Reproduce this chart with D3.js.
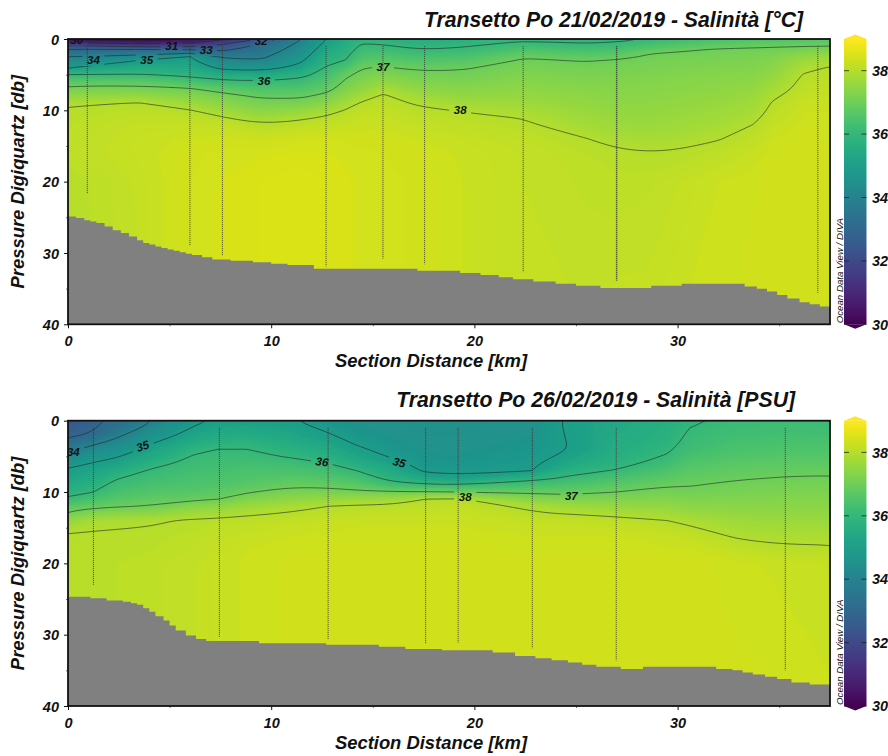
<!DOCTYPE html>
<html>
<head>
<meta charset="utf-8">
<title>Transetto Po</title>
<script src="https://cdn.jsdelivr.net/npm/d3@7"></script>
<style>
  html, body { margin: 0; padding: 0; background: #fff; }
  svg { display: block; }
  text { font-family: "Liberation Sans", Arial, sans-serif; font-weight: bold; font-style: italic; fill: #111; }
</style>
</head>
<body>
<script>
// ---- data ----
const titles = ['Transetto Po 21/02/2019 - Salinità [°C]', 'Transetto Po 26/02/2019 - Salinità [PSU]']
const xLabel = 'Section Distance [km]'
const yLabel = 'Pressure Digiquartz [db]'
const credit = 'Ocean Data View / DIVA'
const barTicks = [30, 32, 34, 36, 38]
const contourLevels = [30, 31, 32, 33, 34, 35, 36, 37, 38]

// first section, 21/02
const km1 = [0, 3.5, 6, 7.6, 9.5, 11.4, 12.7, 13.7, 14.5, 15.5, 17.5, 19.5, 22.4, 25.5, 27, 28.5, 30, 32, 33.7, 34.7, 36.2, 37.5]
const depth1 = [0, 0.5, 1, 1.5, 2, 2.5, 3, 4, 5, 6, 7, 8, 9, 10, 11, 12, 14, 16, 20, 40]
// one row per distance, one value per depth
const sal1 = [
  [29.7, 31, 32.25, 33.1, 33.55, 34, 34.3, 34.95, 36, 36.7, 37.2, 37.55, 37.93, 38.06, 38.08, 38.1, 38.12, 38.14, 38.05, 38.05],
  [29.5, 30.5, 31.7, 33.1, 33.7, 34.3, 35, 35.5, 36.05, 36.75, 37.2, 37.6, 38.02, 38.12, 38.18, 38.22, 38.26, 38.26, 38.22, 38.2],
  [30, 30.85, 31.8, 33, 34, 35.05, 35.15, 35.45, 35.85, 36.4, 37.05, 37.4, 37.7, 38.02, 38.16, 38.22, 38.32, 38.38, 38.4, 38.4],
  [30.8, 31.6, 32.3, 32.85, 33.3, 33.9, 34.2, 34.8, 35.5, 36.15, 36.75, 37.2, 37.45, 37.7, 38.03, 38.2, 38.34, 38.42, 38.46, 38.46],
  [31.95, 33, 33.25, 33.45, 33.65, 33.85, 34.05, 34.7, 35.4, 36.1, 36.5, 36.9, 37.2, 37.45, 37.7, 38.04, 38.32, 38.44, 38.5, 38.5],
  [33.95, 34.1, 34.25, 34.4, 34.55, 34.7, 34.85, 35.2, 35.75, 36.2, 36.5, 36.9, 37.2, 37.55, 37.9, 38.14, 38.38, 38.48, 38.52, 38.52],
  [35, 35.1, 35.25, 35.4, 35.5, 35.65, 35.78, 36.05, 36.3, 36.55, 36.8, 37.15, 37.45, 37.75, 38.06, 38.2, 38.4, 38.46, 38.5, 38.5],
  [35.55, 35.62, 35.7, 35.78, 35.86, 35.94, 36.03, 36.5, 36.9, 37.1, 37.3, 37.55, 37.8, 38.04, 38.16, 38.24, 38.38, 38.44, 38.46, 38.46],
  [35.85, 35.97, 36.1, 36.22, 36.35, 36.5, 36.65, 36.97, 37.15, 37.35, 37.55, 37.8, 38.06, 38.16, 38.24, 38.28, 38.36, 38.42, 38.44, 38.44],
  [35.8, 35.92, 36.05, 36.2, 36.38, 36.55, 36.7, 37.03, 37.3, 37.55, 37.85, 38.06, 38.12, 38.2, 38.24, 38.28, 38.36, 38.4, 38.42, 38.42],
  [35.65, 35.75, 35.87, 36, 36.2, 36.4, 36.55, 36.9, 37.1, 37.3, 37.5, 37.7, 37.93, 38.06, 38.12, 38.2, 38.3, 38.36, 38.38, 38.38],
  [35.75, 35.85, 35.96, 36.12, 36.3, 36.45, 36.6, 36.95, 37.1, 37.25, 37.4, 37.55, 37.75, 37.97, 38.08, 38.14, 38.24, 38.28, 38.3, 38.3],
  [35.9, 36.05, 36.3, 36.5, 36.75, 36.97, 37.05, 37.2, 37.3, 37.4, 37.5, 37.6, 37.7, 37.85, 37.98, 38.06, 38.16, 38.2, 38.2, 38.2],
  [35.85, 35.97, 36.15, 36.35, 36.55, 36.77, 36.97, 37.12, 37.22, 37.32, 37.4, 37.5, 37.55, 37.62, 37.7, 37.78, 38.01, 38.1, 38.14, 38.2],
  [35.88, 36.03, 36.2, 36.42, 36.65, 36.87, 37.03, 37.15, 37.25, 37.32, 37.38, 37.45, 37.5, 37.56, 37.62, 37.68, 37.88, 38.06, 38.12, 38.24],
  [36, 36.2, 36.45, 36.72, 36.97, 37.05, 37.12, 37.2, 37.28, 37.35, 37.4, 37.45, 37.5, 37.55, 37.6, 37.65, 37.82, 38.02, 38.14, 38.24],
  [36.2, 36.4, 36.65, 36.9, 37.05, 37.12, 37.18, 37.25, 37.32, 37.4, 37.45, 37.5, 37.55, 37.6, 37.65, 37.72, 37.87, 38.04, 38.2, 38.3],
  [36.4, 36.6, 36.85, 37.05, 37.12, 37.18, 37.22, 37.3, 37.38, 37.45, 37.5, 37.55, 37.62, 37.68, 37.75, 37.82, 37.98, 38.14, 38.3, 38.34],
  [36.5, 36.7, 36.92, 37.08, 37.15, 37.2, 37.25, 37.32, 37.4, 37.5, 37.58, 37.65, 37.72, 37.8, 37.9, 38, 38.14, 38.26, 38.34, 38.37],
  [36.5, 36.72, 36.95, 37.1, 37.2, 37.28, 37.35, 37.45, 37.55, 37.68, 37.8, 37.93, 38.04, 38.1, 38.16, 38.22, 38.3, 38.34, 38.37, 38.37],
  [36.55, 36.75, 36.98, 37.2, 37.4, 37.55, 37.7, 37.9, 38.02, 38.1, 38.14, 38.22, 38.26, 38.3, 38.3, 38.34, 38.37, 38.37, 38.37, 38.37],
  [36.6, 36.8, 37, 37.25, 37.5, 37.7, 37.82, 38.02, 38.08, 38.14, 38.18, 38.22, 38.26, 38.3, 38.3, 38.34, 38.34, 38.37, 38.37, 38.37]
]
const bathyKm1 = [0, 0.4, 0.8, 1.1, 1.4, 1.8, 2.2, 2.6, 3, 3.4, 3.7, 4, 4.3, 4.6, 4.9, 5.2, 5.5, 5.8, 6.1, 6.6, 7.1, 8, 9.1, 10, 10.8, 12.1, 17.2, 19.3, 20.3, 21.2, 21.9, 22.9, 24, 25, 26.2, 28.7, 30.2, 33.3, 33.9, 34.4, 34.9, 35.4, 36, 36.5, 37, 37.5]
const bathyDepth1 = [24.9, 25.1, 25.4, 25.6, 25.8, 26.3, 26.8, 27.2, 27.7, 28.2, 28.6, 28.8, 29.1, 29.3, 29.5, 29.7, 29.9, 30.1, 30.3, 30.6, 30.9, 31.1, 31.3, 31.5, 31.7, 32.2, 32.5, 32.8, 33.1, 33.4, 33.7, 34, 34.3, 34.6, 34.9, 34.6, 34.3, 34.7, 35, 35.4, 35.9, 36.4, 36.9, 37.2, 37.5, 37.5]
const stationKm1 = [0.95, 6, 7.6, 12.7, 15.5, 17.55, 22.4, 27, 36.9]
const stationEnd1 = [21.7, 28.9, 30.4, 31.9, 30.8, 31.6, 32.7, 33.9, 35.6]
const labelText1 = ['30', '34', '35', '31', '33', '32', '36', '37', '38']
const labelKm1 = [0.43, 1.25, 3.87, 5.1, 6.8, 9.5, 9.64, 15.5, 19.3]
const labelDepth1 = [0.1, 2.95, 2.94, 0.93, 1.55, 0.2, 5.9, 3.9, 9.95]
const labelTilt1 = [0, 0, 0, 0, 0, 0, 0, 0, 0]

// second section, 26/02
const km2 = [0, 1.25, 2.4, 4.2, 6.2, 7.4, 8.8, 10.9, 12.8, 14.2, 16, 17.6, 19.2, 22.85, 23.9, 24.7, 27, 29.5, 30.6, 33, 35.3, 37.5]
const depth2 = [0, 1, 2, 3, 4, 5, 6, 7, 8, 9, 10, 11, 12, 14, 16, 18, 20, 40]
const sal2 = [
  [32.4, 32.6, 32.85, 33.25, 33.75, 34.2, 34.75, 35.1, 35.3, 35.55, 35.8, 36.1, 36.7, 37.55, 38.03, 38.05, 38.06, 38.06],
  [32.8, 32.95, 33.1, 33.8, 34.3, 34.65, 35.05, 35.3, 35.5, 35.75, 36, 36.4, 36.85, 37.85, 38.05, 38.06, 38.08, 38.08],
  [33.2, 33.45, 33.85, 34.2, 34.55, 34.95, 35.25, 35.6, 35.95, 36.2, 36.4, 36.6, 36.95, 37.9, 38.06, 38.08, 38.1, 38.1],
  [34, 34.3, 34.6, 34.95, 35.25, 35.5, 35.8, 36.1, 36.25, 36.4, 36.6, 36.8, 37.05, 37.95, 38.08, 38.1, 38.14, 38.14],
  [34.85, 35.05, 35.3, 35.55, 35.85, 36.05, 36.2, 36.3, 36.4, 36.5, 36.65, 36.9, 37.4, 38.06, 38.12, 38.16, 38.2, 38.2],
  [35.1, 35.3, 35.5, 35.75, 36, 36.15, 36.25, 36.35, 36.45, 36.55, 36.75, 37, 37.5, 38.1, 38.18, 38.22, 38.26, 38.26],
  [35.15, 35.35, 35.55, 35.8, 36, 36.15, 36.3, 36.45, 36.55, 36.7, 36.95, 37.3, 37.7, 38.14, 38.24, 38.3, 38.32, 38.32],
  [35.05, 35.2, 35.35, 35.55, 35.75, 35.95, 36.25, 36.45, 36.65, 36.9, 37.2, 37.5, 37.85, 38.2, 38.3, 38.34, 38.36, 38.36],
  [34.75, 34.9, 35.05, 35.25, 35.5, 35.75, 36, 36.3, 36.55, 36.85, 37.2, 37.6, 38, 38.24, 38.32, 38.36, 38.38, 38.38],
  [34.6, 34.68, 34.78, 34.92, 35.1, 35.3, 35.6, 36, 36.35, 36.7, 37.1, 37.7, 38.06, 38.28, 38.34, 38.36, 38.38, 38.38],
  [34.55, 34.58, 34.62, 34.68, 34.78, 34.93, 35.2, 35.45, 35.75, 36.2, 37.05, 37.7, 38.1, 38.28, 38.34, 38.36, 38.38, 38.38],
  [34.5, 34.52, 34.55, 34.58, 34.62, 34.68, 34.76, 34.9, 35.35, 36.1, 37.05, 38, 38.14, 38.28, 38.34, 38.36, 38.38, 38.38],
  [34.5, 34.52, 34.54, 34.57, 34.6, 34.66, 34.75, 34.88, 35.1, 36, 37, 38.06, 38.2, 38.28, 38.34, 38.36, 38.38, 38.38],
  [34.6, 34.62, 34.65, 34.7, 34.76, 34.84, 34.92, 35, 35.75, 36.35, 36.9, 37.4, 37.9, 38.2, 38.3, 38.34, 38.37, 38.37],
  [34.9, 34.91, 34.92, 34.93, 34.95, 35, 35.15, 35.5, 35.95, 36.4, 36.85, 37.35, 37.8, 38.2, 38.3, 38.34, 38.37, 38.37],
  [35.1, 35.07, 35.04, 35.02, 35.01, 35.2, 35.45, 35.75, 36.1, 36.5, 36.85, 37.3, 37.75, 38.2, 38.3, 38.34, 38.37, 38.37],
  [35.4, 35.45, 35.5, 35.55, 35.6, 35.7, 35.8, 36.05, 36.4, 36.7, 37, 37.3, 37.6, 38.14, 38.3, 38.34, 38.37, 38.37],
  [35.7, 35.72, 35.76, 35.82, 35.92, 36.05, 36.25, 36.5, 36.7, 36.95, 37.15, 37.35, 37.55, 38, 38.24, 38.32, 38.37, 38.37],
  [35.92, 36, 36.08, 36.15, 36.25, 36.4, 36.55, 36.7, 36.82, 36.97, 37.1, 37.3, 37.45, 37.9, 38.18, 38.32, 38.37, 38.37],
  [36.15, 36.2, 36.28, 36.36, 36.45, 36.55, 36.7, 36.82, 36.95, 37.1, 37.2, 37.3, 37.45, 37.7, 37.92, 38.18, 38.32, 38.37],
  [36.2, 36.25, 36.32, 36.4, 36.5, 36.62, 36.75, 36.88, 37.02, 37.15, 37.25, 37.35, 37.45, 37.65, 37.87, 38.06, 38.28, 38.36],
  [36.15, 36.22, 36.3, 36.4, 36.5, 36.62, 36.75, 36.9, 37.05, 37.15, 37.25, 37.35, 37.45, 37.65, 37.87, 38.06, 38.24, 38.32]
]
const bathyKm2 = [0, 1.1, 1.9, 2.7, 3.1, 3.4, 3.7, 4, 4.3, 4.7, 5, 5.3, 5.8, 6.3, 6.8, 9.4, 12.7, 15.3, 16.6, 18.4, 20.9, 22, 23, 23.8, 24.6, 25.3, 26, 27.2, 28.3, 31.9, 32.7, 33.2, 33.7, 34.3, 34.9, 35.6, 36.5, 37.5]
const bathyDepth2 = [24.7, 24.9, 25.2, 25.4, 25.6, 25.8, 26.3, 26.8, 27.4, 28, 28.7, 29.4, 30.1, 30.6, 30.9, 31.2, 31.4, 31.7, 32, 32.2, 32.5, 33, 33.3, 33.6, 33.9, 34.2, 34.5, 34.8, 34.5, 34.8, 35, 35.3, 35.6, 35.9, 36.2, 36.7, 37, 37.4]
const stationKm2 = [1.25, 7.45, 12.8, 17.6, 19.2, 22.85, 26.98, 35.3]
const stationEnd2 = [23, 30.3, 30.6, 31.3, 31.1, 31.9, 33.6, 35]
const labelText2 = ['34', '35', '36', '35', '38', '37']
const labelKm2 = [0.26, 3.67, 12.5, 16.3, 19.55, 24.77]
const labelDepth2 = [4.35, 3.55, 5.75, 5.84, 10.7, 10.5]
const labelTilt2 = [0, -20, 8, 15, 0, 0]

// ---- drawing ----
const W = 888, H = 756
const plotLeft = 68, plotRight = 830
const kmPerAxis = 37.5
const salColor = v => d3.interpolateViridis((v - 30) / 9)

const svg = d3.select('body').append('svg').attr('width', W).attr('height', H)
const defs = svg.append('defs')

// gradient of the colour bar, bottom to top
const grad = defs.append('linearGradient').attr('id', 'barGrad')
  .attr('x1', 0).attr('x2', 0).attr('y1', 1).attr('y2', 0)
d3.range(30, 39.01, 0.25).forEach(v => {
  grad.append('stop').attr('offset', (v - 30) / 9).attr('stop-color', salColor(v))
})

// softens the facets of the filled bands
defs.append('filter').attr('id', 'soft')
  .attr('filterUnits', 'userSpaceOnUse').attr('x', 0).attr('y', 0).attr('width', W).attr('height', H)
  .append('feGaussianBlur').attr('stdDeviation', 2)

function drawPanel(id, top, bottom, titleText, titleRight, titleY, km, depth, sal, bathyKm, bathyDepth, stKm, stEnd, lbText, lbKm, lbDepth, lbTilt) {
  const x = d3.scaleLinear().domain([0, kmPerAxis]).range([plotLeft, plotRight])
  const y = d3.scaleLinear().domain([0, 40]).range([top, bottom])

  const g = svg.append('g')

  defs.append('clipPath').attr('id', 'clip' + id)
    .append('rect').attr('x', plotLeft).attr('y', top).attr('width', plotRight - plotLeft).attr('height', bottom - top)

  const n = km.length, m = depth.length
  const flat = []
  for (let j = 0; j < m; j++) {
    for (let i = 0; i < n; i++) flat.push(sal[i][j])
  }
  const contours = d3.contours().size([n, m])

  // contours work on index space, this brings them back to km and db.
  // points on the grid border go outside the frame, the clip cuts them
  const ix = d3.scaleLinear().domain(km.map((d, i) => i + 0.5)).range(km).clamp(true)
  const iy = d3.scaleLinear().domain(depth.map((d, i) => i + 0.5)).range(depth).clamp(true)
  const toPx = (a, b) => [
    x(ix(a)) + (a <= 0 ? -20 : a >= n ? 20 : 0),
    y(iy(b)) + (b <= 0 ? -20 : b >= m ? 20 : 0)
  ]
  const path = d3.geoPath(d3.geoTransform({
    point: function (a, b) { const p = toPx(a, b); this.stream.point(p[0], p[1]) }
  }))
  const smooth = d3.line().curve(d3.curveBasisClosed)
  const isoPath = d => d.coordinates
    .flatMap(poly => poly.map(ring => smooth(ring.slice(0, -1).map(p => toPx(p[0], p[1])))))
    .join('')

  const field = g.append('g').attr('clip-path', `url(#clip${id})`)
  const bands = field.append('g').attr('filter', 'url(#soft)')
  bands.append('rect')
    .attr('x', plotLeft - 25).attr('y', top - 25).attr('width', plotRight - plotLeft + 50).attr('height', bottom - top + 50)
    .attr('fill', salColor(30))
  bands.selectAll('path.band')
    .data(contours.thresholds(d3.range(30, 39, 0.05))(flat))
    .join('path')
    .attr('class', 'band')
    .attr('d', path)
    .attr('fill', d => salColor(d.value))

  // holes in the isolines under the labels
  const mask = defs.append('mask').attr('id', 'gap' + id).attr('maskUnits', 'userSpaceOnUse')
    .attr('x', 0).attr('y', 0).attr('width', W).attr('height', H)
  mask.append('rect').attr('width', W).attr('height', H).attr('fill', '#fff')
  lbText.forEach((t, i) => {
    mask.append('rect')
      .attr('x', -11).attr('y', -6).attr('width', 22).attr('height', 12).attr('fill', '#000')
      .attr('transform', `translate(${x(lbKm[i])},${y(lbDepth[i])}) rotate(${lbTilt[i]})`)
  })

  field.append('g').attr('mask', `url(#gap${id})`)
    .selectAll('path.iso')
    .data(contours.thresholds(contourLevels)(flat))
    .join('path')
    .attr('class', 'iso')
    .attr('d', isoPath)
    .attr('fill', 'none')
    .attr('stroke', '#1c2a2a')
    .attr('stroke-width', 0.6)

  // sea floor
  const floor = d3.area().curve(d3.curveStepAfter)
    .x((d, i) => x(bathyKm[i]))
    .y0(y(40))
    .y1((d, i) => y(bathyDepth[i]))
  field.append('path').datum(bathyKm).attr('d', floor).attr('fill', '#808080')

  // casts
  field.selectAll('line.cast')
    .data(stKm)
    .join('line')
    .attr('class', 'cast')
    .attr('x1', d => x(d)).attr('x2', d => x(d))
    .attr('y1', y(1))
    .attr('y2', (d, i) => y(stEnd[i]))
    .attr('stroke', '#333')
    .attr('stroke-width', d => (id === 1 && d === 27) ? 1.5 : 0.9)
    .attr('stroke-dasharray', '1,1')

  // isoline labels
  field.selectAll('text.lb')
    .data(lbText)
    .join('text')
    .attr('class', 'lb')
    .attr('transform', (d, i) => `translate(${x(lbKm[i])},${y(lbDepth[i])}) rotate(${lbTilt[i]})`)
    .attr('text-anchor', 'middle')
    .attr('dy', '0.36em')
    .attr('font-size', 11.5)
    .text(d => d)

  // axes
  const xAxis = d3.axisBottom(x).tickValues(d3.range(0, 36, 5)).tickSize(0).tickPadding(0).tickFormat('')
  const gx = g.append('g').attr('transform', `translate(0,${bottom})`).call(xAxis)
  const yAxis = d3.axisLeft(y).tickValues(d3.range(0, 41, 5)).tickSize(0).tickFormat('')
  const gy = g.append('g').attr('transform', `translate(${plotLeft},0)`).call(yAxis)
  gx.select('.domain').remove()
  gy.select('.domain').remove()
  gx.selectAll('.tick').each(function (d) {
    const major = d % 10 === 0
    d3.select(this).select('line').attr('y2', major ? 4 : 2).attr('stroke', major ? '#111' : '#777')
    d3.select(this).select('text').text(major ? d : '')
      .attr('y', 22).attr('dy', 0).attr('font-size', 14.5)
  })
  gy.selectAll('.tick').each(function (d) {
    const major = d % 10 === 0
    d3.select(this).select('line').attr('x2', major ? -4 : -2).attr('stroke', major ? '#111' : '#777')
    d3.select(this).select('text').text(major ? d : '')
      .attr('x', -9).attr('dy', '0.36em').attr('font-size', 14.5)
  })

  // frame
  g.append('rect')
    .attr('x', plotLeft).attr('y', top).attr('width', plotRight - plotLeft).attr('height', bottom - top)
    .attr('fill', 'none').attr('stroke', '#111').attr('stroke-width', 1.8)

  g.append('text').attr('x', titleRight).attr('y', titleY).attr('text-anchor', 'end')
    .attr('font-size', 21.2).text(titleText)
  g.append('text').attr('x', 431).attr('y', bottom + 43).attr('text-anchor', 'middle')
    .attr('font-size', 18.4).text(xLabel)
  g.append('text').attr('transform', `translate(24,${(top + bottom) / 2}) rotate(-90)`)
    .attr('text-anchor', 'middle').attr('font-size', 18.4).text(yLabel)

  // colour bar
  const c = d3.scaleLinear().domain([30, 39]).range([bottom, top])
  const barL = 844, barR = 866.5
  const bar = g.append('g')
  bar.append('rect')
    .attr('x', barL).attr('y', c(39)).attr('width', barR - barL).attr('height', c(30) - c(39))
    .attr('fill', 'url(#barGrad)')
  bar.selectAll('path.tip').data([[30, -1], [39, 1]]).join('path')
    .attr('class', 'tip')
    .attr('d', d => d3.line()([
      [barL, c(d[0])], [(barL + barR) / 2, c(d[0]) - d[1] * 4.5], [barR, c(d[0])]
    ]) + 'Z')
    .attr('fill', d => salColor(d[0]))
  const tk = bar.selectAll('g.bt').data(barTicks).join('g').attr('class', 'bt')
    .attr('transform', d => `translate(0,${c(d)})`)
  tk.append('line').attr('x1', barL).attr('x2', barL + 5).attr('stroke', '#222').attr('stroke-width', 0.8)
  tk.append('line').attr('x1', barR - 5).attr('x2', barR).attr('stroke', '#222').attr('stroke-width', 0.8)
  tk.append('text').attr('x', 872).attr('dy', '0.36em').attr('font-size', 14.5).text(d => d)

  g.append('text')
    .attr('transform', `translate(842.5,${bottom - 1}) rotate(-90)`)
    .attr('font-size', 9.7)
    .style('font-weight', 'normal')
    .text(credit)
}

drawPanel(1, 39, 324.3, titles[0], 803, 27, km1, depth1, sal1, bathyKm1, bathyDepth1, stationKm1, stationEnd1, labelText1, labelKm1, labelDepth1, labelTilt1)
drawPanel(2, 420.7, 706, titles[1], 795, 407, km2, depth2, sal2, bathyKm2, bathyDepth2, stationKm2, stationEnd2, labelText2, labelKm2, labelDepth2, labelTilt2)
</script>
</body>
</html>
